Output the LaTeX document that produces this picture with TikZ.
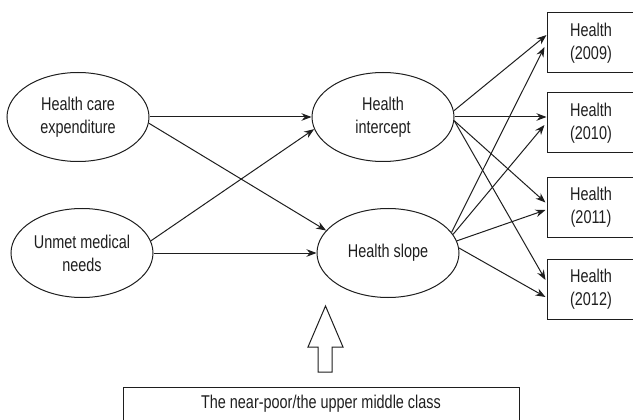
\documentclass[tikz,border=0pt]{standalone}
\usepackage{fontspec}
\setmainfont{Liberation Sans}[FakeStretch=0.78]
\usetikzlibrary{shapes.geometric,arrows.meta}
\definecolor{ink}{HTML}{1E1E1E}
\begin{document}
\begin{tikzpicture}[x=1pt,y=-1pt,
  every node/.style={font=\fontsize{18.5}{23}\selectfont, text=ink},
  latent/.style={draw=ink, line width=1pt, ellipse, minimum width=142pt, minimum height=89pt, inner sep=0pt, align=center},
  obsbox/.style={draw=ink, line width=1pt, rectangle, minimum width=88pt, minimum height=60pt, inner sep=0pt, align=center},
  arr/.style={draw=ink, line width=1pt, -{Stealth[length=10pt,width=7.5pt]}}]
\useasboundingbox (0,0) rectangle (633,420);
\clip (0,0) rectangle (633,420);
\node[latent] (hce) at (78,117) {Health care\\expenditure};
\node[latent] (umn) at (82,253) {Unmet medical\\needs};
\node[latent] (int) at (383,117) {Health\\intercept};
\node[latent] (slo) at (388,253) {Health slope};
\node[obsbox] (h9) at (591,43) {Health\\(2009)};
\node[obsbox] (h10) at (591,123) {Health\\(2010)};
\node[obsbox] (h11) at (591,207.5) {Health\\(2011)};
\node[obsbox] (h12) at (591,289) {Health\\(2012)};
\node[draw=ink, line width=1pt, minimum width=396pt, minimum height=60pt, anchor=north west, inner sep=0pt] (grp) at (123,387) {};
\node (grptext) at (321,404) {The near-poor/the upper middle class};
% left arrows
\draw[arr] (hce.east) -- (int.west);
\draw[arr] (hce.-5) -- (slo.160);
\draw[arr] (umn.10) -- (int.190);
\draw[arr] (umn.east) -- (slo.west);
% intercept loadings
\draw[arr] (int.5) -- ([yshift=8pt]h9.west);
\draw[arr] (int.east) -- ([yshift=6pt]h10.west);
\draw[arr] (int.-3) -- ([yshift=5pt,xshift=-1pt]h11.west);
\draw[arr] (int.-3) -- ([yshift=9pt,xshift=-1pt]h12.west);
% slope loadings
\draw[arr] (slo.18) -- ([yshift=-4pt,xshift=-2pt]h9.west);
\draw[arr] (slo.16) -- ([yshift=-2pt,xshift=-2pt]h10.west);
\draw[arr] (slo.10) -- ([yshift=-2.5pt,xshift=-1pt]h11.west);
\draw[arr] (slo.4) -- ([yshift=-8pt,xshift=-1pt]h12.west);
% hollow arrow
\draw[draw=ink, line width=1pt, fill=white] (325.5,306) -- (343,347) -- (332,347) -- (332,372) -- (318,372) -- (318,347) -- (308,347) -- cycle;
\end{tikzpicture}
\end{document}
